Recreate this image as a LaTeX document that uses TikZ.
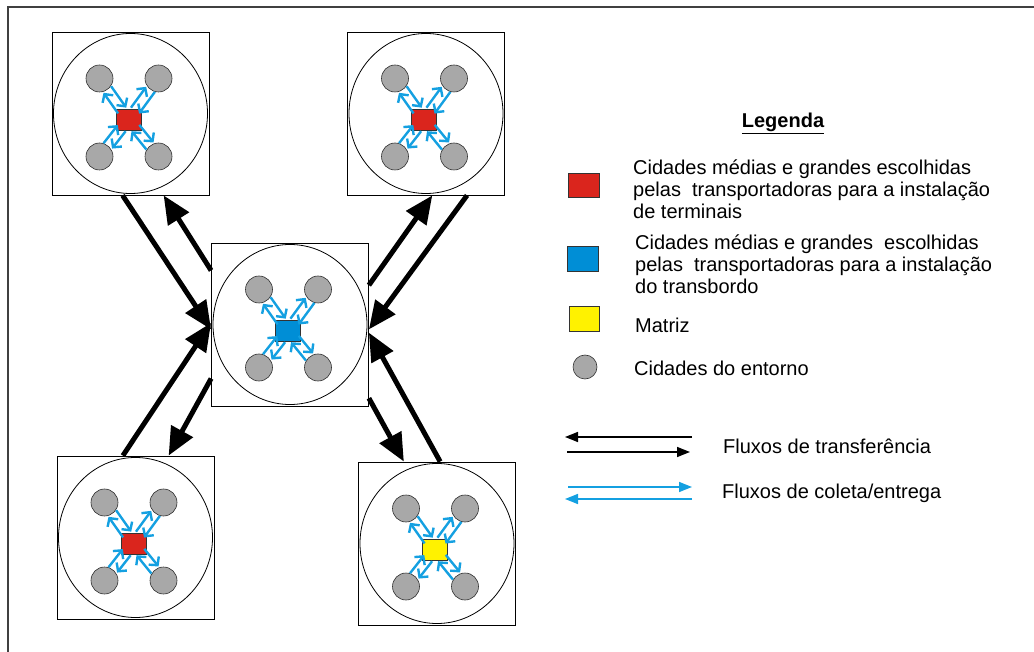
\documentclass[tikz,border=0pt]{standalone}
\usepackage{fontspec}
\setmainfont{Liberation Sans}
\usetikzlibrary{arrows.meta,calc}
\definecolor{vermelho}{RGB}{218,37,29}
\definecolor{azul}{RGB}{0,142,214}
\definecolor{azulseta}{RGB}{20,160,225}
\definecolor{amarelo}{RGB}{255,242,0}
\definecolor{cinza}{RGB}{168,168,168}
\tikzset{
  caixa/.style={draw, line width=0.8pt, minimum width=157pt, minimum height=163pt, inner sep=0pt},
  entorno/.style={circle, draw=black!80, fill=cinza, minimum size=27pt, inner sep=0pt, line width=0.6pt},
  polo/.style={draw=black!80, minimum width=25pt, minimum height=21pt, inner sep=0pt, line width=0.6pt},
  coleta/.style={azulseta, line width=2.4pt, -{Straight Barb[length=6pt,width=13pt]}},
  transf/.style={line width=5pt, -{Triangle[length=28pt,width=24pt]}},
  legtxt/.style={anchor=west, inner sep=0pt, align=left, font=\fontsize{20}{22}\selectfont}
}
\newcommand{\regiao}[3]{%
  \node[caixa] (#1) at (#2) {};
  \draw[line width=0.8pt] (#1.center) ellipse [x radius=77, y radius=80];
  \node[entorno] (#1a) at ($(#1.center)+(-31,-35)$) {};
  \node[entorno] (#1b) at ($(#1.center)+(28,-35)$) {};
  \node[entorno] (#1c) at ($(#1.center)+(-31,43)$) {};
  \node[entorno] (#1d) at ($(#1.center)+(28,43)$) {};
  \node[polo, fill=#3] (#1s) at ($(#1.center)+(-2,6)$) {};
  \foreach \e in {a,b,c,d}{
    \draw[coleta, shorten <=13pt, shorten >=11pt] ($(#1\e.center)!5pt!90:(#1s.center)$) -- ($(#1s.center)!5pt!-90:(#1\e.center)$);
    \draw[coleta, shorten <=11pt, shorten >=14pt] ($(#1s.center)!5pt!90:(#1\e.center)$) -- ($(#1\e.center)!5pt!-90:(#1s.center)$);
  }
}

\begin{document}
\begin{tikzpicture}[x=1pt,y=-1pt]
\useasboundingbox (0,0) rectangle (1034,652);
\draw[line width=1.2pt, black!75] (8,652) -- (8,7) -- (1034,7);

\regiao{ter1}{130.5,113.5}{vermelho}
\regiao{ter2}{426,113.5}{vermelho}
\regiao{trans}{290,324.5}{azul}
\regiao{ter3}{135.5,537.5}{vermelho}
\regiao{matriz}{437,543.5}{amarelo}

\draw[transf] ($(ter1.south west)!0.45!(ter1.south east)$) -- ($(trans.north west)!0.53!(trans.south west)$);
\draw[transf] ($(trans.north west)!0.17!(trans.south west)$) -- ($(ter1.south west)!0.71!(ter1.south east)$);
\draw[transf] ($(trans.north east)!0.26!(trans.south east)$) -- ($(ter2.south west)!0.54!(ter2.south east)$);
\draw[transf] ($(ter2.south west)!0.76!(ter2.south east)$) -- ($(trans.north east)!0.53!(trans.south east)$);
\draw[transf] ($(ter3.north west)!0.42!(ter3.north east)$) -- ($(trans.north west)!0.49!(trans.south west)$);
\draw[transf] ($(trans.north west)!0.83!(trans.south west)$) -- ($(ter3.north west)!0.71!(ter3.north east)$);
\draw[transf] ($(trans.north east)!0.95!(trans.south east)$) -- ($(matriz.north west)!0.29!(matriz.north east)$);
\draw[transf] ($(matriz.north west)!0.52!(matriz.north east)$) -- ($(trans.north east)!0.55!(trans.south east)$);

\node[font=\fontsize{20}{22}\selectfont\bfseries, inner sep=0pt] (legenda) at (783,123) {\underline{Legenda}};
\node[polo, fill=vermelho, minimum width=31pt, minimum height=24pt] (legter) at (584,185) {};
\node[legtxt] (txtter) at (633,189) {Cidades médias e grandes escolhidas\\pelas~ transportadoras para a instalação\\de terminais};
\node[polo, fill=azul, minimum width=31pt, minimum height=25pt] (legtrans) at (583,259) {};
\node[legtxt] (txttrans) at (635,264) {Cidades médias e grandes~ escolhidas\\pelas~ transportadoras para a instalação\\do transbordo};
\node[polo, fill=amarelo, minimum width=30pt, minimum height=25pt] (legmat) at (584,319) {};
\node[legtxt] (txtmat) at (635,325) {Matriz};
\node[entorno, minimum size=24pt] (legent) at (585,367) {};
\node[legtxt] (txtent) at (634,368) {Cidades do entorno};

\coordinate (lt1) at (692,437);
\coordinate (lt2) at (565,437);
\coordinate (lt3) at (567,452);
\coordinate (lt4) at (690,452);
\draw[line width=1.5pt, -{Triangle[length=13pt,width=10pt]}] (lt1) -- (lt2);
\draw[line width=1.5pt, -{Triangle[length=13pt,width=10pt]}] (lt3) -- (lt4);
\node[legtxt] (txttransf) at (723,446) {Fluxos de transferência};

\coordinate (lc1) at (568,487);
\coordinate (lc2) at (692,487);
\coordinate (lc3) at (692,499);
\coordinate (lc4) at (565,499);
\draw[azulseta, line width=1.5pt, -{Triangle[length=13pt,width=10pt]}] (lc1) -- (lc2);
\draw[azulseta, line width=1.5pt, -{Triangle[length=13pt,width=10pt]}] (lc3) -- (lc4);
\node[legtxt] (txtcol) at (722,493) {Fluxos de coleta/entrega};
\end{tikzpicture}
\end{document}
